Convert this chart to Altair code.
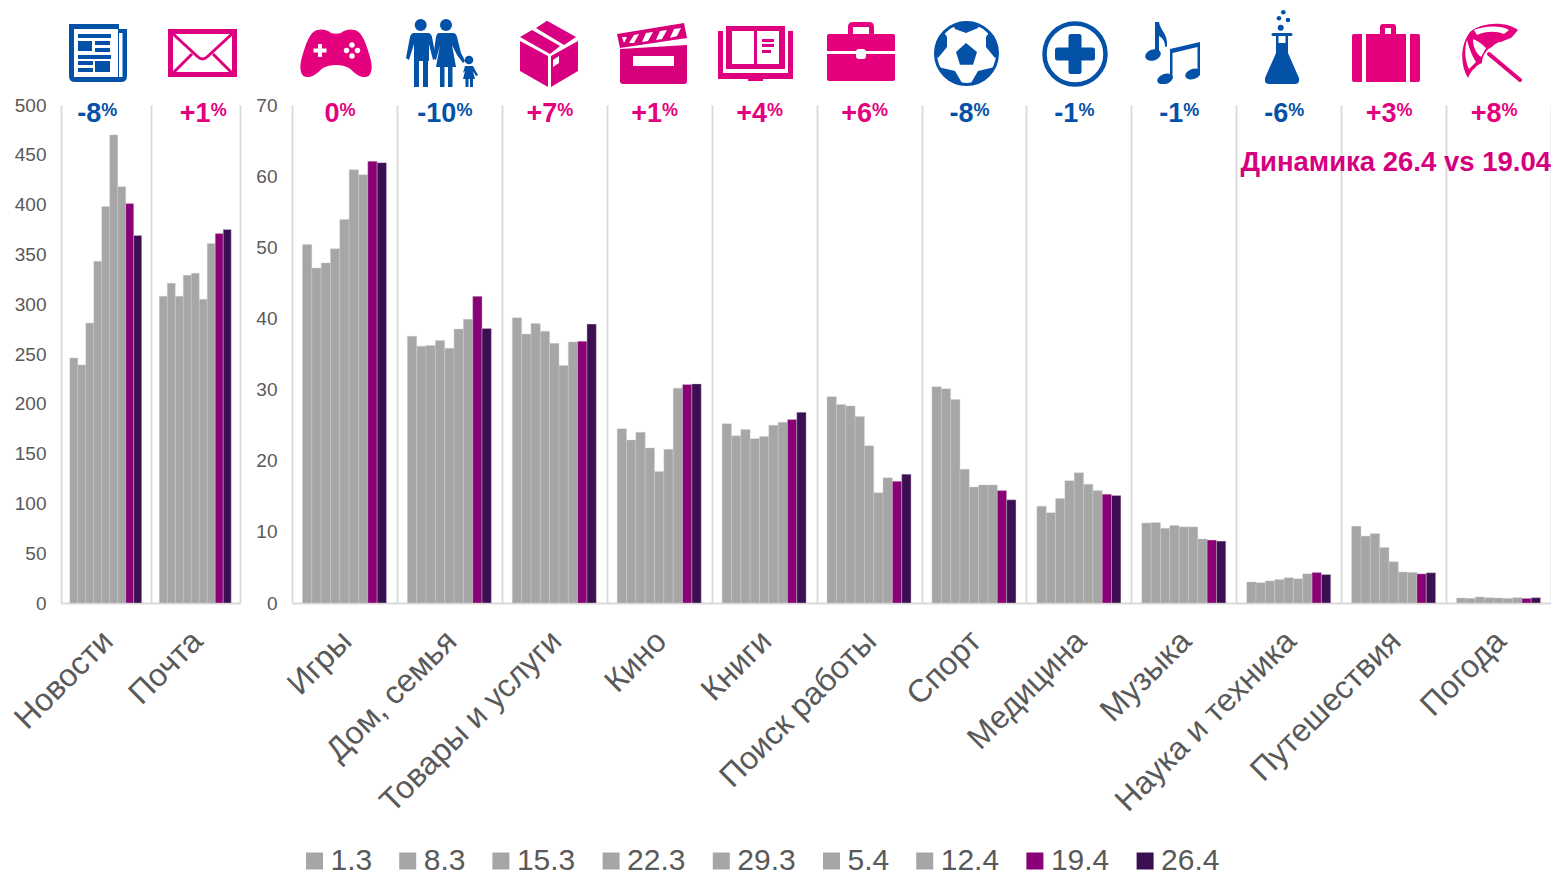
import base64
import altair as alt

periods = ["1.3", "8.3", "15.3", "22.3", "29.3", "5.4", "12.4", "19.4", "26.4"]
period_colors = ["#A6A6A6"] * 7 + ["#8A0076", "#3C0F53"]

left_cats = ["Новости", "Почта"]
right_cats = ["Игры", "Дом, семья", "Товары и услуги", "Кино", "Книги", "Поиск работы",
              "Спорт", "Медицина", "Музыка", "Наука и техника", "Путешествия", "Погода"]

left_values = [
    [246, 239, 281, 343, 398, 470, 418, 401, 369],
    [308, 321, 308, 329, 331, 305, 361, 371, 375],
]
right_values = [
    [50.4, 47.1, 47.8, 49.8, 53.9, 60.9, 60.2, 62.1, 61.9],
    [37.5, 36.1, 36.2, 36.9, 35.8, 38.5, 39.9, 43.1, 38.6],
    [40.1, 37.8, 39.3, 38.2, 36.5, 33.4, 36.7, 36.8, 39.2],
    [24.5, 22.9, 24.0, 21.8, 18.5, 21.6, 30.2, 30.7, 30.8],
    [25.2, 23.5, 24.4, 23.1, 23.4, 25.0, 25.4, 25.8, 26.8],
    [29.0, 27.9, 27.7, 26.2, 22.1, 15.5, 17.6, 17.1, 18.1],
    [30.4, 30.1, 28.6, 18.8, 16.3, 16.6, 16.6, 15.8, 14.5],
    [13.6, 12.7, 14.7, 17.2, 18.3, 16.7, 15.8, 15.3, 15.1],
    [11.25, 11.3, 10.5, 10.9, 10.7, 10.7, 9.0, 8.85, 8.7],
    [2.95, 2.85, 3.1, 3.3, 3.55, 3.4, 4.1, 4.3, 4.0],
    [10.8, 9.4, 9.75, 7.8, 5.8, 4.35, 4.3, 4.1, 4.25],
    [0.7, 0.65, 0.85, 0.75, 0.7, 0.65, 0.75, 0.65, 0.75],
]
left_deltas = ["-8", "+1"]
right_deltas = ["0", "-10", "+7", "+1", "+4", "+6", "-8", "-1", "-1", "-6", "+3", "+8"]

PINK = "#E5007D"
BLUE = "#0451A8"
GREY = "#595959"
LINE = "#D9D9D9"
FONT = "Liberation Sans"


def svg(w, h, body, color):
    s = (f'<svg xmlns="http://www.w3.org/2000/svg" width="{w}" height="{h}" viewBox="0 0 {w} {h}" '
         f'fill="{color}" stroke="none">{body}</svg>')
    return "data:image/svg+xml;base64," + base64.b64encode(s.encode()).decode()


W = 'fill="#fff"'
newspaper = f'''<path d="M0,0H50V5H58V52Q58,58 52,58H6Q0,58 0,52Z"/><rect x="5" y="5" width="44" height="48" {W}/>
<rect x="50" y="9" width="3.5" height="44" {W}/><rect x="9" y="10" width="33" height="4"/><rect x="9" y="17" width="14" height="10"/>
<rect x="26" y="17" width="15" height="4"/><rect x="26" y="24" width="15" height="4"/><rect x="9" y="31" width="33" height="4"/>
<rect x="9" y="37" width="15" height="4"/><rect x="9" y="44" width="15" height="4"/><rect x="26" y="37" width="15" height="11"/>'''
envelope = f'''<path fill-rule="evenodd" d="M0,0H69V48H0ZM5,5V43H64V5Z"/><g fill="none" stroke="#DD007F" stroke-width="3">
<path d="M4,4L30,28Q34.500,32 39,28L65,4"/><path d="M5,44L24,25"/><path d="M64,44L45,25"/></g>'''
gamepad = f'''<path d="M17,1C22,-0.500 28,1 31,4Q36,5.500 41,4C44,1 50,-0.500 55,1C62,3 66,14 70,28C73,38 72,47 66,48C59,49 54,43 49,39C42,35 30,35 23,39C18,43 13,49 6,48C0,47 -1,38 2,28C6,14 10,3 17,1Z"/>
<path d="M18,15h4v4.500h4.500v4h-4.500v4.500h-4v-4.500h-4.500v-4h4.500z" {W}/><circle cx="52" cy="16" r="2.700" {W}/><circle cx="52" cy="27" r="2.700" {W}/>
<circle cx="46.500" cy="21.500" r="2.700" {W}/><circle cx="57.500" cy="21.500" r="2.700" {W}/>'''
family = f'''<circle cx="15.700" cy="6" r="6"/><circle cx="41" cy="6" r="6"/><circle cx="64" cy="41" r="4.300"/>
<path d="M9,14H23Q26,14 27,18L31,39L28,41L24,25V42H9V25L4,41L1,39L5,18Q6,14 9,14Z"/><rect x="9" y="40" width="5" height="28"/><rect x="18" y="40" width="5" height="28"/>
<path d="M34,14H48Q51,14 52,18L56,34L60,42L58,44L52,36L47,26L51,48H31L35,26L31,41L28,39L31,18Q32,14 34,14Z"/><rect x="35" y="46" width="4.500" height="22"/><rect x="43" y="46" width="4.500" height="22"/>
<path d="M60,47H68L73,56L71,57L68,52L70,60H58L60,52L58,54Z"/><rect x="60.500" y="59" width="3" height="9"/><rect x="65" y="59" width="3" height="9"/>'''
box = '''<path d="M27,0.700L56,17L44,25L16,8Z"/><path d="M12,10L40,26L30,34L0,17Z"/><path d="M0,21L28,36V67L0,51Z"/>
<path fill-rule="evenodd" d="M31,36L58,21V51L31,67ZM33,40V47L39,43V36Z"/>'''
clapper = f'''<path d="M0,11L67,0L70,15L3,25Z"/><path d="M3,26L70,22V58Q70,61 67,61H6Q3,61 3,58Z"/><rect x="16" y="33" width="41" height="10" {W}/>
<path d="M5,14H10L7,20Z" {W}/><path d="M17,12L22,11L17,20L12,20Z" {W}/><path d="M29,10L36,9L31,18L25,19Z" {W}/><path d="M43,8L50,7L45,16L39,17Z" {W}/><path d="M57,6L64,5L60,13L53,15Z" {W}/>'''
book = f'''<path d="M8,0H67V43H8Z"/><rect x="14" y="5" width="22" height="33" {W}/><rect x="39" y="5" width="22" height="33" {W}/>
<rect x="44" y="13" width="12" height="3"/><rect x="44" y="18" width="12" height="3"/><rect x="44" y="24" width="9" height="3"/>
<path d="M0,5H5V47H70V5H75V53H45V55H30V53H0Z"/>'''
briefcase = f'''<path fill-rule="evenodd" d="M21,12V5Q21,0 26,0H42Q47,0 47,5V12ZM26,5V12H42V5Z"/><path d="M2,12H66Q68,12 68,14V29H0V14Q0,12 2,12Z"/>
<path d="M0,32H68V57Q68,59 66,59H2Q0,59 0,57Z"/><rect x="29" y="27" width="10" height="10" rx="3" {W}/>'''
ball = f'''<defs><clipPath id="c"><circle cx="32.500" cy="32.500" r="32"/></clipPath></defs><circle cx="32.500" cy="32.500" r="31" fill="none" stroke="{BLUE}" stroke-width="3"/>
<path d="M32,22L43,31L39,43.700H26L22,31Z"/><g clip-path="url(#c)"><path d="M18,0H47L44,7L32,12L21,8Z"/><path d="M9,10L13,16L13,26L4,37L-2,30V10Z"/><path d="M56,10L52,16L52,26L61,37L67,30V10Z"/>
<path d="M4,46L21,50L28,62L24,66H10Z"/><path d="M61,46L44,50L37,62L41,66H55Z"/></g>'''
cross = f'''<circle cx="33" cy="33" r="30.500" fill="none" stroke="{BLUE}" stroke-width="4.500"/>
<path d="M29,13H37Q39.500,13 39.500,15.500V26.500H50.500Q53,26.500 53,29V37Q53,39.500 50.500,39.500H39.500V50.500Q39.500,53 37,53H29Q26.500,53 26.500,50.500V39.500H15.500Q13,39.500 13,37V29Q13,26.500 15.500,26.500H26.500V15.500Q26.500,13 29,13Z"/>'''
music = '''<ellipse cx="8" cy="33" rx="8" ry="5.500" transform="rotate(-20 8 33)"/><path d="M10,0H14C15,8 23,12 22,24Q21.500,26 20,24C20,18 16,15 14,14V33H10Z"/>
<ellipse cx="20" cy="57" rx="8" ry="5" transform="rotate(-20 20 57)"/><ellipse cx="48" cy="52" rx="8" ry="5" transform="rotate(-20 48 52)"/>
<path d="M25,27L55,20V53H52.500V25L27.500,31V57H25Z"/>'''
flask = f'''<circle cx="18.300" cy="2.300" r="2.300"/><circle cx="14" cy="8.300" r="2.300"/><circle cx="23" cy="10" r="2.300"/><circle cx="15.700" cy="17.700" r="3"/>
<rect x="6.500" y="23" width="21" height="3" rx="1.500"/><path d="M11,25H23V43L34,68Q35,74 30,74H4Q-1,74 0,68L11,43Z"/><rect x="13.500" y="26" width="7" height="7" {W}/>'''
suitcase = f'''<path fill-rule="evenodd" d="M28,10V3Q28,0 31,0H41Q44,0 44,3V10ZM33,4V10H39V4Z"/><path d="M2,10H10V58H2Q0,58 0,56V12Q0,10 2,10Z"/><rect x="14" y="10" width="40" height="48"/>
<path d="M58,10H66Q68,10 68,12V56Q68,58 66,58H58Z"/>'''
umbrella = f'''<path d="M56,7C44,-2 20,-1 8,9C-2,22 -2,42 6,55C8,50 10,47 13,45C15,42 18,41 20,40C20,36 21,33 23,30C25,27 27,25 30,24C32,21 36,19 39,19C43,17 46,16 49,15C52,12 54,9 56,7Z"/>
<path d="M12,7C22,3 38,2 47,7L42,11C34,8 24,8 15,12Z" {W}/><path d="M11,16C11,24 14,30 19,34L24,25C20,21 16,18 11,16Z" {W}/><path d="M5,17C2,26 3,38 7,46L14,39C10,33 7,25 5,17Z" {W}/>
<path d="M27,31L58,57" fill="none" stroke="{PINK}" stroke-width="4" stroke-linecap="round"/>'''
clap_color = "#D6007A"
box_color = "#D80080"

# icon, colour, width, height, left and top in page pixels
left_icons = [(newspaper, BLUE, 58, 58, 69, 24), (envelope, "#DD007F", 69, 48, 168, 29)]
right_icons = [
    (gamepad, PINK, 72, 48, 300, 29), (family, BLUE, 74, 68, 405, 19), (box, box_color, 58, 67, 520, 20),
    (clapper, clap_color, 71, 61, 617, 23), (book, "#DD007F", 75, 55, 718, 26), (briefcase, PINK, 68, 59, 827, 22),
    (ball, BLUE, 65, 65, 934, 21), (cross, BLUE, 66, 66, 1042, 21), (music, BLUE, 55, 62, 1145, 22),
    (flask, BLUE, 35, 75, 1265, 10), (suitcase, PINK, 68, 58, 1352, 24), (umbrella, PINK, 60, 59, 1462, 23),
]
PLOT_TOP = 105
# empty slots either side of a group's bars make the gap to the separators
offset_slots = ["_before"] + periods + ["_after"]


def glyph_width(txt):
    return sum({"-": 9, "+": 15.8}.get(c, 15) for c in txt)


def panel(cats, values, deltas, icons, ymax, ystep, width, plot_left, shifts, outer, extra=None):
    rows = [{"cat": c, "period": p, "value": v}
            for c, vs in zip(cats, values) for p, v in zip(periods, vs)]
    x_enc = alt.X("cat:N", sort=cats, title=None,
                  scale=alt.Scale(domain=cats, paddingInner=0, paddingOuter=0),
                  axis=alt.Axis(labelAngle=315, labelFontSize=32, labelColor=GREY, labelFont=FONT,
                                labelPadding=22, labelOffset=-9, labelLimit=400, ticks=False,
                                tickBand="extent", grid=True,
                                gridColor=LINE, gridWidth=1.8, domainColor=LINE, domainWidth=1.8))
    bars = alt.Chart(alt.Data(values=rows)).mark_bar(stroke="#CFCFCF", strokeWidth=0.4).encode(
        x=x_enc,
        xOffset=alt.XOffset("period:N", sort=offset_slots,
                            scale=alt.Scale(domain=offset_slots, paddingInner=0, paddingOuter=outer)),
        y=alt.Y("value:Q", title=None, scale=alt.Scale(domain=[0, ymax], nice=False),
                axis=alt.Axis(values=list(range(0, ymax + 1, ystep)), grid=False, domain=False, ticks=False,
                              labelFontSize=19, labelColor=GREY, labelFont=FONT, labelPadding=15)),
        color=alt.Color("period:N", sort=periods,
                        scale=alt.Scale(domain=periods, range=period_colors),
                        legend=alt.Legend(title=None, orient="none", legendX=238.5, legendY=741, direction="horizontal",
                                          columns=9, symbolType="square", symbolSize=289, symbolStrokeWidth=0,
                                          labelFontSize=30, labelColor=GREY, labelFont=FONT, labelOffset=1,
                                          columnPadding=20.2, padding=0, labelLimit=200)),
    )
    layers = [bars]
    for cat, d, shift in zip(cats, deltas, shifts):
        color = BLUE if d.startswith("-") else PINK
        junction = shift + (glyph_width(d) - 16) / 2
        data = alt.Data(values=[{"cat": cat, "num": d, "pct": "%"}])
        layers.append(alt.Chart(data).mark_text(align="right", baseline="alphabetic", dx=junction, fontSize=27,
                                                fontWeight="bold", font=FONT, color=color)
                      .encode(x=x_enc, y=alt.value(17), text="num:N"))
        layers.append(alt.Chart(data).mark_text(align="left", baseline="alphabetic", dx=junction, fontSize=18,
                                                fontWeight="bold", font=FONT, color=color)
                      .encode(x=x_enc, y=alt.value(11), text="pct:N"))
    for body, color, w, h, px, py in icons:
        layers.append(alt.Chart(alt.Data(values=[{"i": 1}]))
                      .mark_image(url=svg(w, h, body, color), width=w, height=h, align="left", baseline="top")
                      .encode(x=alt.value(px - plot_left), y=alt.value(py - PLOT_TOP)))
    if extra:
        layers.extend(extra)
    return alt.layer(*layers).properties(width=width, height=498)


dynamics = alt.Chart(alt.Data(values=[{"t": "Динамика 26.4 vs 19.04"}])).mark_text(
    align="right", baseline="alphabetic", fontSize=27.5, fontWeight="bold", font=FONT, color="#D6007F"
).encode(x=alt.value(1259), y=alt.value(66), text="t:N")

left = panel(left_cats, left_values, left_deltas, left_icons, 500, 50, 179, 61, [-8.5, 8], 0.1)
right = panel(right_cats, right_values, right_deltas, right_icons, 70, 10, 1259, 292, [-4.5] * 12, 0.12, [dynamics])

chart = (alt.hconcat(left, right, spacing=15)
         .resolve_scale(y="independent", x="independent", xOffset="independent")
         .configure_view(stroke=None)
         .properties(padding={"left": 0, "top": 2, "right": 0, "bottom": 0}, background="white"))

chart.save("out.html", embed_options={"renderer": "svg", "actions": False})
